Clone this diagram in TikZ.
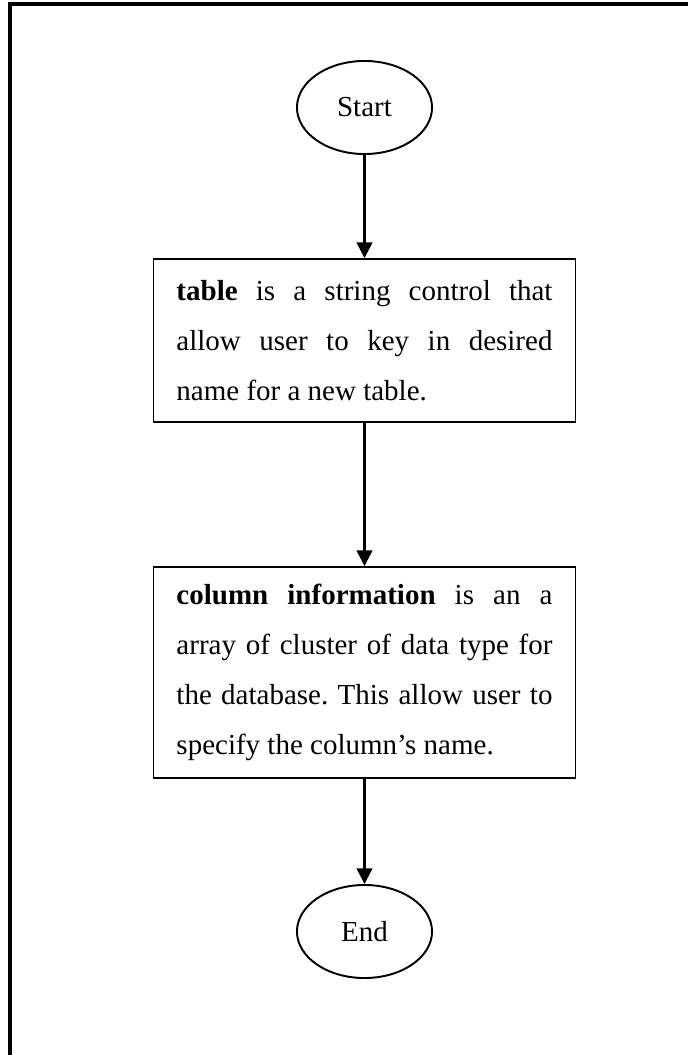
\documentclass[tikz,border=0pt]{standalone}
\usepackage{fontspec}
\setmainfont{Liberation Serif}
\usetikzlibrary{positioning, shapes.geometric, arrows.meta}
\frenchspacing
\tikzset{
    base/.style={
        font=\fontsize{12}{20.7}\selectfont,
        line width=0.8pt
    },
    terminal/.style={
        base,
        ellipse,
        draw,
        minimum width=55.9pt,
        minimum height=38.5pt
    },
    process/.style={
        base,
        rectangle,
        draw,
        text width=155.6pt,
        align=justify,
        inner xsep=9.5pt
    },
    flow/.style={
        -{Triangle[length=6.5pt, width=6.5pt]},
        line width=0.9pt
    }
}

\begin{document}
\begin{tikzpicture}[x=0.4138pt, y=-0.4138pt]
  \useasboundingbox (0,0) rectangle (688,1055);

  % Frame
  \draw[line width=1.3pt] (10,1055) -- (10,4) -- (688,4);

  % Nodes
  \node[terminal] (start) at (364.5,107.5) {Start};
  \node[process, minimum height=67.4pt] (table) at (364.5,340.5)
    {\textbf{table} is a string control that\linebreak allow user to key in desired\linebreak name for a new table.};
  \node[process, minimum height=87.3pt] (column) at (364.5,672.5)
    {\textbf{column information} is an a\linebreak array of cluster of data type for\linebreak the database. This allow user to\linebreak specify the column's name.};
  \node[terminal] (end) at (364.5,931.5) {End};

  % Connections
  \draw[flow] (start) -- (table);
  \draw[flow] (table) -- (column);
  \draw[flow] (column) -- (end);

\end{tikzpicture}
\end{document}
